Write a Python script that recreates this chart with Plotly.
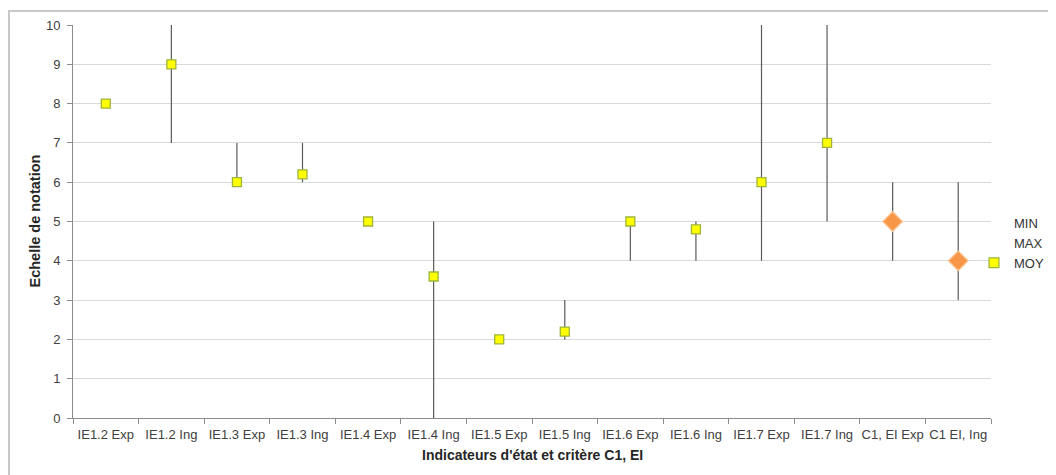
import plotly.graph_objects as go

categories = ["IE1.2 Exp", "IE1.2 Ing", "IE1.3 Exp", "IE1.3 Ing", "IE1.4 Exp", "IE1.4 Ing",
              "IE1.5 Exp", "IE1.5 Ing", "IE1.6 Exp", "IE1.6 Ing", "IE1.7 Exp", "IE1.7 Ing",
              "C1, EI Exp", "C1 EI, Ing"]
min_vals = [8, 7, 6, 6, 5, 0, 2, 2, 4, 4, 4, 5, 4, 3]
max_vals = [8, 10, 7, 7, 5, 5, 2, 3, 5, 5, 10, 10, 6, 6]
moy_vals = [8, 9, 6, 6.2, 5, 3.6, 2, 2.2, 5, 4.8, 6, 7, 5, 4]
y_ticks = [0, 1, 2, 3, 4, 5, 6, 7, 8, 9, 10]

# figure is placed 8px into the page (body margin), so work in figure coords
W, H = 1048, 467
L, R, T, B = 65, 983, 17, 410

def px(x):
    return (x - L) / (R - L)

def py(y):
    return (B - y) / (B - T)

fig = go.Figure()

# high-low lines drawn as error bars from MIN up to MAX
fig.add_trace(go.Scatter(
    x=categories, y=min_vals, name="MIN", mode="markers",
    marker=dict(size=1, color="rgba(0,0,0,0)"),
    error_y=dict(type="data", symmetric=False,
                 array=[mx - mn for mx, mn in zip(max_vals, min_vals)],
                 arrayminus=[0] * len(min_vals),
                 width=0, thickness=1.2, color="#5a5a5a"),
    hoverinfo="skip"))
fig.add_trace(go.Scatter(
    x=categories, y=max_vals, name="MAX", mode="markers",
    marker=dict(size=1, color="rgba(0,0,0,0)"), hoverinfo="skip"))

n = len(categories)
symbols = ["square"] * (n - 2) + ["diamond"] * 2
colors = ["#ffff00"] * (n - 2) + ["#f79646"] * 2
sizes = [9] * (n - 2) + [15] * 2
line_colors = ["#9fb53a"] * (n - 2) + ["#f9c08a"] * 2
fig.add_trace(go.Scatter(
    x=categories, y=moy_vals, name="MOY", mode="markers",
    marker=dict(symbol=symbols, color=colors, size=sizes, opacity=1,
                line=dict(color=line_colors, width=1.3))))

fig.update_layout(
    width=W, height=H,
    margin=dict(l=L, r=W - R, t=T, b=H - B, pad=0, autoexpand=False),
    paper_bgcolor="white", plot_bgcolor="white",
    font=dict(family="Liberation Sans, Arial, sans-serif", size=13, color="#404040"),
    showlegend=True,
    legend=dict(x=px(966), y=py(200), xanchor="left", yanchor="top",
                font=dict(size=13, color="#333333"), bgcolor="rgba(0,0,0,0)",
                itemwidth=30, tracegroupgap=0),
    xaxis=dict(type="category", categoryarray=categories, range=[-0.5, n - 0.5],
               showgrid=False, showline=True, linecolor="#8c8c8c", linewidth=1,
               ticks="outside", ticklen=5, tickcolor="#8c8c8c", tickson="boundaries",
               tickangle=0, automargin=False, ticklabelstandoff=4,
               tickfont=dict(size=13, color="#404040"), zeroline=False),
    yaxis=dict(range=[0, 10], tickvals=y_ticks, showgrid=True, gridcolor="#d9d9d9", gridwidth=1,
               showline=True, linecolor="#8c8c8c", linewidth=1, ticks="outside", ticklen=5,
               automargin=False, ticklabelstandoff=4,
               tickcolor="#8c8c8c", tickfont=dict(size=13, color="#404040"), zeroline=False),
    annotations=[
        dict(text="<b>Indicateurs d'état et critère C1, EI</b>", xref="paper", yref="paper",
             x=0.5, y=py(447), xanchor="center", yanchor="middle",
             showarrow=False, font=dict(size=14, color="#262626")),
        dict(text="<b>Echelle de notation</b>", xref="paper", yref="paper", textangle=-90,
             x=px(26), y=0.5, xanchor="center", yanchor="middle",
             showarrow=False, font=dict(size=14.5, color="#262626")),
    ],
    shapes=[dict(type="rect", xref="paper", yref="paper",
                 x0=px(1), x1=px(1200), y0=py(600), y1=py(3),
                 line=dict(color="#c8c8c8", width=2), layer="below")],
)

fig.write_html("out.html")
